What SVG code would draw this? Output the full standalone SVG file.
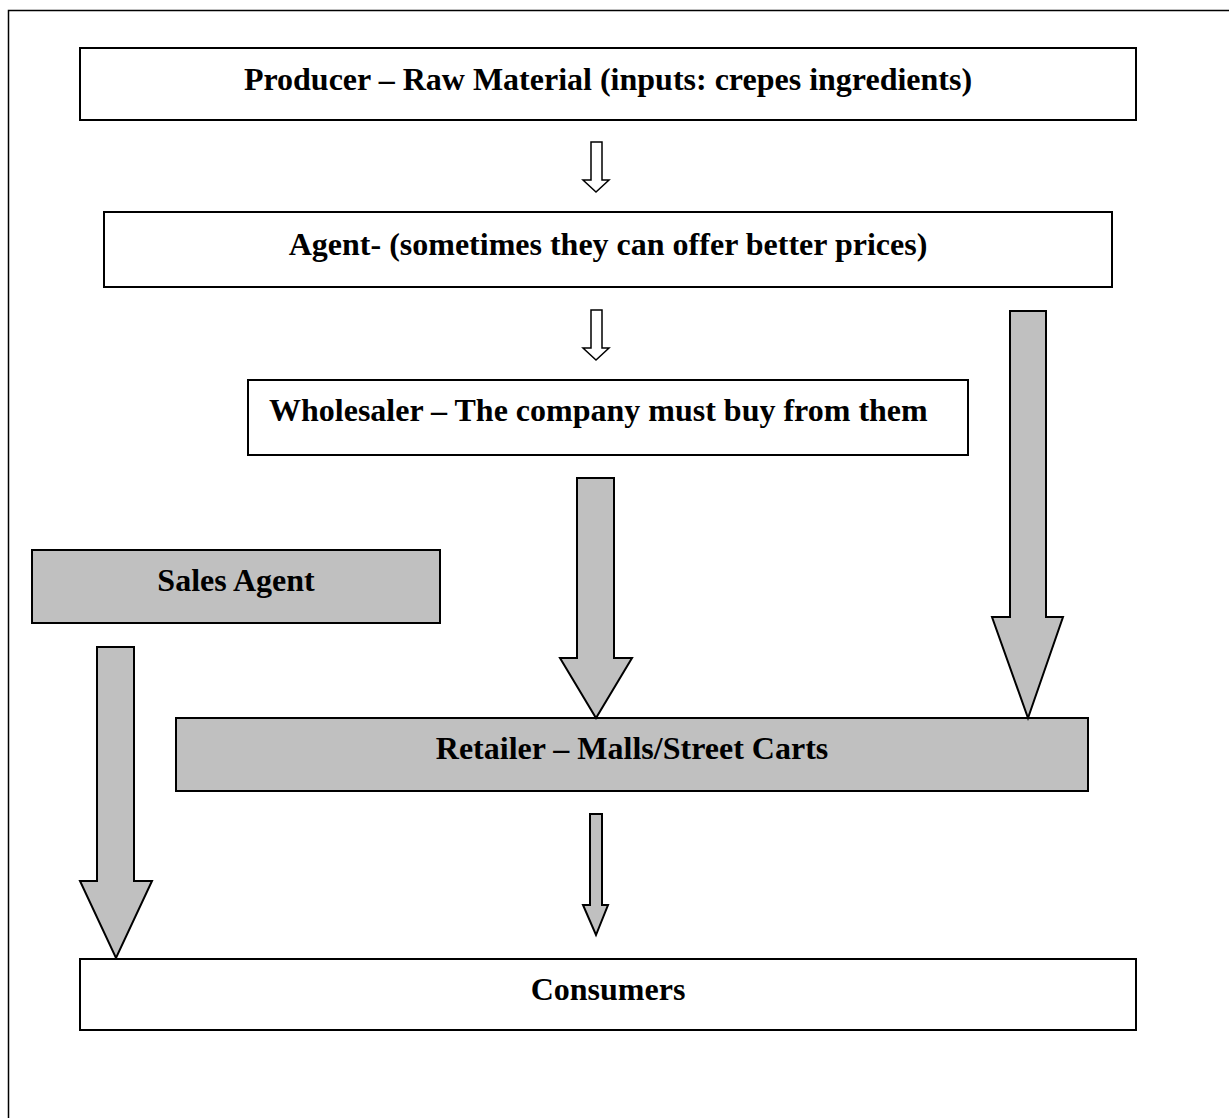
<svg xmlns="http://www.w3.org/2000/svg" width="1229" height="1118" viewBox="0 0 1229 1118">
<style>
.box{fill:#fff;stroke:#000;stroke-width:2}
.gbox{fill:#c0c0c0;stroke:#000;stroke-width:2}
.t{font-family:"Liberation Serif","Times New Roman",serif;font-weight:bold;font-size:32px;fill:#000}
.ha{fill:#fff;stroke:#000;stroke-width:1.5;stroke-linejoin:miter}
.ga{fill:#c0c0c0;stroke:#000;stroke-width:2;stroke-linejoin:miter}
</style>
<rect x="0" y="0" width="1229" height="1118" fill="#fff"/>
<path d="M8.5,1118 V10.5 H1229" fill="none" stroke="#000" stroke-width="1.5"/>
<g id="producer"><rect class="box" x="80" y="48" width="1056" height="72"/><text class="t" x="608" y="90" text-anchor="middle">Producer – Raw Material (inputs: crepes ingredients)</text></g>
<g id="agent"><rect class="box" x="104" y="212" width="1008" height="75"/><text class="t" x="608" y="255" text-anchor="middle">Agent- (sometimes they can offer better prices)</text></g>
<g id="wholesaler"><rect class="box" x="248" y="380" width="720" height="75"/><text class="t" x="269" y="421">Wholesaler – The company must buy from them</text></g>
<g id="sales-agent"><rect class="gbox" x="32" y="550" width="408" height="73"/><text class="t" x="236" y="591" text-anchor="middle">Sales Agent</text></g>
<g id="retailer"><rect class="gbox" x="176" y="718" width="912" height="73"/><text class="t" x="632" y="759" text-anchor="middle">Retailer – Malls/Street Carts</text></g>
<g id="consumers"><rect class="box" x="80" y="959" width="1056" height="71"/><text class="t" x="608" y="1000" text-anchor="middle">Consumers</text></g>
<g id="connectors">
<polygon class="ha" points="591,142 602,142 602,180 609,180 596,192 583,180 591,180"/>
<polygon class="ha" points="591,310 602,310 602,348 609,348 596,360 583,348 591,348"/>
<polygon class="ga" points="577,478 614,478 614,658 632,658 596,718 560,658 577,658"/>
<polygon class="ga" points="1010,311 1046,311 1046,617 1063,617 1028,718 992,617 1010,617"/>
<polygon class="ga" points="97,647 134,647 134,881 152,881 116,958 80,881 97,881"/>
<polygon class="ga" points="590,814 602,814 602,905 608,905 596,935 583,905 590,905"/>
</g>
</svg>
